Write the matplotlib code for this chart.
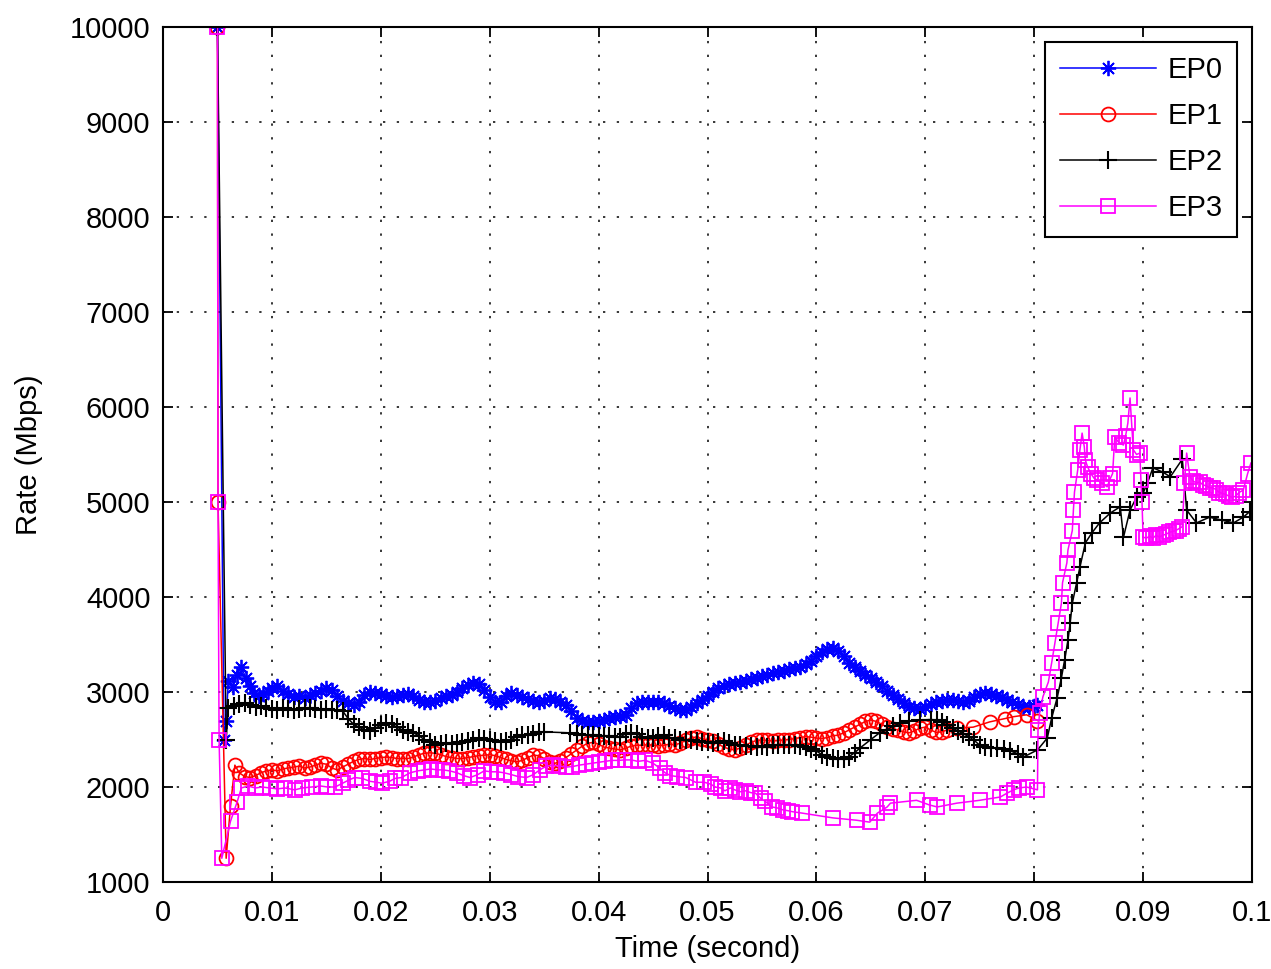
import numpy as np
import matplotlib
matplotlib.use("Agg")
import matplotlib.pyplot as plt

plt.rcParams['font.family'] = ['Liberation Sans', 'DejaVu Sans']

# ---------------- data (time in ms, rate in Mbps) ----------------
ep0_t = [5.0, 5.6, 5.8, 6.0, 6.4, 6.8, 7.2, 7.6, 8.0, 8.4, 8.8, 9.2, 9.6, 10.0, 10.5, 11.0, 11.5,
         12.0, 12.5, 13.0, 13.5, 14.0, 14.5, 15.0, 15.5, 16.0, 16.5, 17.0, 17.5, 18.0, 18.5, 19.0, 19.5,
         20.0, 20.5, 21.0, 21.5, 22.0, 22.5, 23.0, 23.5, 24.0, 24.5, 25.0, 25.5, 26.0, 26.5, 27.0, 27.5,
         28.0, 28.5, 29.0, 29.5, 30.0, 30.5, 31.0, 31.5, 32.0, 32.5, 33.0, 33.5, 34.0, 34.5, 35.0, 35.5,
         36.0, 36.5, 37.0, 37.5, 38.0, 38.5, 39.0, 39.5, 40.0, 40.5, 41.0, 41.5, 42.0, 42.5, 43.0, 43.5,
         44.0, 44.5, 45.0, 45.5, 46.0, 46.5, 47.0, 47.5, 48.0, 48.5, 49.0, 49.5, 50.0, 50.5, 51.0, 51.5,
         52.0, 52.5, 53.0, 53.5, 54.0, 54.5, 55.0, 55.5, 56.0, 56.5, 57.0, 57.5, 58.0, 58.5, 59.0, 59.5,
         60.0, 60.5, 61.0, 61.5, 62.0, 62.5, 63.0, 63.5, 64.0, 64.5, 65.0, 65.5, 66.0, 66.5, 67.0, 67.5,
         68.0, 68.5, 69.0, 69.5, 70.0, 70.5, 71.0, 71.5, 72.0, 72.5, 73.0, 73.5, 74.0, 74.5, 75.0, 75.5,
         76.0, 76.5, 77.0, 77.5, 78.0, 78.5, 79.0, 79.5, 80.0, 80.3]
ep0_v = [10000, 2500, 2700, 3120, 3050, 3180, 3260, 3150, 3060, 2990, 2960, 2980, 3010, 3040, 3060, 3010, 2980,
         2950, 2960, 2940, 2970, 2990, 3010, 3040, 3020, 2960, 2910, 2880, 2860, 2900, 2970, 3000, 2990,
         2980, 2960, 2950, 2960, 2970, 2980, 2960, 2920, 2900, 2890, 2910, 2940, 2960, 2970, 3000, 3040,
         3070, 3095, 3080, 3020, 2950, 2890, 2900, 2960, 2990, 2970, 2950, 2930, 2910, 2895, 2910, 2935,
         2930, 2900, 2860, 2800, 2730, 2690, 2680, 2685, 2690, 2710, 2730, 2740, 2745, 2760, 2830, 2880,
         2890, 2895, 2890, 2895, 2880, 2850, 2830, 2815, 2810, 2840, 2880, 2915, 2960, 3000, 3040, 3060,
         3080, 3100, 3110, 3120, 3135, 3150, 3165, 3180, 3195, 3210, 3225, 3240, 3250, 3265, 3290, 3330,
         3380, 3420, 3450, 3460, 3430, 3380, 3310, 3260, 3220, 3180, 3150, 3110, 3060, 3010, 2970, 2930,
         2880, 2845, 2830, 2825, 2840, 2870, 2895, 2905, 2915, 2915, 2905, 2895, 2910, 2950, 2980, 2990,
         2975, 2960, 2945, 2920, 2895, 2870, 2845, 2840, 2855, 2860]

ep1_t = [5.0, 5.05, 5.8, 6.2, 6.6, 7.0, 7.5, 8.0, 8.5, 9.0, 9.5, 10.0, 10.5, 11.0, 11.5, 12.0, 12.5,
         13.0, 13.5, 14.0, 14.5, 15.0, 15.5, 16.0, 16.5, 17.0, 17.5, 18.0, 18.5, 19.0, 19.5, 20.0, 20.5,
         21.0, 21.5, 22.0, 22.5, 23.0, 23.5, 24.0, 24.5, 25.0, 25.5, 26.0, 26.5, 27.0, 27.5, 28.0, 28.5,
         29.0, 29.5, 30.0, 30.5, 31.0, 31.5, 32.0, 32.5, 33.0, 33.5, 34.0, 34.5, 35.0, 35.5, 36.0, 36.5,
         37.0, 37.5, 38.0, 38.5, 39.0, 39.5, 40.0, 40.5, 41.0, 41.5, 42.0, 42.5, 43.0, 43.5, 44.0, 44.5,
         45.0, 45.5, 46.0, 46.5, 47.0, 47.5, 48.0, 48.5, 49.0, 49.5, 50.0, 50.5, 51.0, 51.5, 52.0, 52.5,
         53.0, 53.5, 54.0, 54.5, 55.0, 55.5, 56.0, 56.5, 57.0, 57.5, 58.0, 58.5, 59.0, 59.5, 60.0, 60.5,
         61.0, 61.5, 62.0, 62.5, 63.0, 63.5, 64.0, 64.5, 65.0, 65.5, 66.0, 66.5, 67.0, 67.5, 68.0, 68.5,
         69.0, 69.5, 70.0, 70.5, 71.0, 71.5, 72.0, 72.9, 74.4, 75.9, 77.3, 78.1, 79.3, 80.3]
ep1_v = [10000, 5000, 1250, 1800, 2230, 2150, 2110, 2100, 2120, 2150, 2170, 2180, 2170, 2190, 2200, 2210, 2220,
         2200, 2210, 2230, 2250, 2240, 2200, 2180, 2210, 2240, 2270, 2290, 2300, 2290, 2300, 2310, 2315,
         2310, 2300, 2300, 2300, 2315, 2340, 2355, 2360, 2355, 2340, 2320, 2310, 2300, 2300, 2310, 2320,
         2330, 2335, 2340, 2330, 2310, 2290, 2275, 2265, 2280, 2310, 2335, 2330, 2300, 2265, 2250, 2270,
         2310, 2350, 2390, 2430, 2460, 2470, 2450, 2420, 2410, 2400, 2390, 2410, 2430, 2440, 2440, 2445,
         2440, 2435, 2440, 2450, 2445, 2460, 2490, 2520, 2525, 2510, 2495, 2480, 2450, 2420, 2400, 2390,
         2410, 2440, 2470, 2490, 2495, 2490, 2485, 2490, 2495, 2500, 2510, 2520, 2530, 2525, 2515, 2510,
         2520, 2540, 2545, 2570, 2600, 2630, 2660, 2690, 2705, 2690, 2660, 2630, 2615, 2600, 2580, 2570,
         2590, 2620, 2630, 2600, 2575, 2580, 2600, 2620, 2630, 2685, 2720, 2740, 2760, 2700]

ep2_t = [5.0, 5.8, 6.0, 6.5, 7.0, 7.5, 8.0, 8.5, 9.0, 9.5, 10.0, 10.5, 11.0, 11.5, 12.0, 12.5, 13.0,
         13.5, 14.0, 14.5, 15.0, 15.5, 16.0, 16.5, 17.0, 17.5, 18.0, 18.5, 19.0, 19.5, 20.0, 20.5, 21.0,
         21.5, 22.0, 22.5, 23.0, 23.5, 24.0, 24.5, 25.0, 25.5, 26.0, 26.5, 27.0, 27.5, 28.0, 28.5, 29.0,
         29.5, 30.0, 30.5, 31.0, 31.5, 32.0, 32.5, 33.0, 33.5, 34.0, 34.5, 35.0, 37.4, 38.0, 38.5, 39.0,
         39.5, 40.0, 40.5, 41.0, 41.5, 42.0, 42.5, 43.0, 43.5, 44.0, 44.5, 45.0, 45.5, 46.0, 46.5, 47.0,
         47.5, 48.0, 48.5, 49.0, 49.5, 50.0, 50.5, 51.0, 51.5, 52.0, 52.5, 53.0, 53.5, 54.0, 54.5, 55.0,
         55.5, 56.0, 56.5, 57.0, 57.5, 58.0, 58.5, 59.0, 59.5, 60.0, 60.5, 61.0, 61.5, 62.0, 62.5, 63.0,
         63.5, 64.0, 65.0, 65.8, 66.5, 67.0, 67.7, 68.5, 69.5, 70.5, 71.1, 71.5, 72.0, 72.5, 73.0, 73.5,
         74.0, 74.5, 75.0, 75.5, 76.0, 76.6, 77.2, 77.8, 78.5, 79.0, 80.3, 81.2, 81.6, 82.1, 82.5, 82.8,
         83.1, 83.3, 83.5, 83.9, 84.2, 84.7, 85.3, 86.0, 87.0, 87.9, 88.2, 88.8, 89.4, 90.0, 90.4, 90.9,
         91.8, 92.5, 93.6, 94.0, 94.9, 96.1, 97.2, 98.3, 99.2, 99.8]
ep2_v = [10000, 2500, 2830, 2850, 2870, 2880, 2860, 2840, 2850, 2830, 2820, 2810, 2830, 2820, 2810, 2820, 2830,
         2830, 2820, 2810, 2820, 2815, 2810, 2800, 2720, 2660, 2630, 2600, 2590, 2620, 2650, 2670, 2660,
         2630, 2600, 2580, 2570, 2540, 2500, 2470, 2440, 2450, 2460, 2455, 2460, 2470, 2480, 2500, 2515,
         2510, 2490, 2480, 2475, 2480, 2500, 2530, 2545, 2550, 2560, 2580, 2580, 2570, 2560, 2550, 2545,
         2545, 2540, 2540, 2535, 2530, 2530, 2560, 2570, 2560, 2530, 2515, 2520, 2540, 2545, 2520, 2515,
         2500, 2490, 2495, 2480, 2475, 2470, 2460, 2470, 2480, 2460, 2440, 2445, 2435, 2430, 2420, 2430,
         2420, 2440, 2445, 2440, 2440, 2445, 2430, 2420, 2400, 2380, 2340, 2320, 2310, 2300, 2290, 2320,
         2360, 2410, 2500, 2570, 2600, 2640, 2670, 2690, 2705, 2710, 2705, 2680, 2650, 2620, 2590, 2560,
         2530, 2490, 2440, 2420, 2410, 2410, 2400, 2380, 2350, 2315, 2390, 2515, 2725, 2935, 3150, 3340,
         3545, 3725, 3935, 4150, 4315, 4570, 4675, 4780, 4885, 4950, 4630, 4915, 5050, 5095, 5200, 5360,
         5315, 5265, 5450, 4915, 4780, 4840, 4810, 4780, 4840, 4900]

ep3_t = [5.0, 5.05, 5.15, 5.4, 6.2, 6.8, 7.2, 7.8, 8.5, 9.1, 9.8, 10.5, 11.2, 12.1, 12.8, 13.7, 14.5, 15.1,
         15.8, 16.5, 17.0, 17.6, 18.3, 19.0, 19.6, 20.1, 20.8, 21.3, 21.9, 22.7, 23.4, 24.0, 24.6, 25.2,
         25.7, 26.3, 27.0, 27.6, 28.2, 28.9, 29.5, 30.1, 30.7, 31.3, 32.0, 32.6, 33.4, 34.0, 34.6, 35.2,
         35.8, 36.4, 37.0, 37.6, 38.2, 38.8, 39.4, 40.0, 40.6, 41.2, 41.8, 42.4, 43.0, 43.6, 44.3, 45.0,
         45.6, 46.1, 46.6, 47.2, 48.0, 48.9, 49.7, 50.3, 50.7, 51.2, 51.6, 52.1, 52.5, 53.0, 53.5, 54.0,
         54.4, 54.9, 55.3, 55.9, 56.4, 56.9, 57.4, 57.8, 58.7, 61.5, 63.7, 64.9, 65.6, 66.5, 66.8, 69.2,
         70.4, 71.1, 72.9, 75.0, 76.9, 77.5, 78.1, 78.6, 79.3, 80.3, 80.35, 80.5, 80.8, 81.3, 81.6, 81.9,
         82.2, 82.5, 82.6, 83.0, 83.1, 83.5, 83.6, 83.7, 84.0, 84.2, 84.4, 84.6, 84.7, 84.9, 85.2, 85.5,
         85.8, 86.2, 86.7, 87.0, 87.2, 87.4, 87.8, 88.2, 88.4, 88.6, 88.8, 89.1, 89.4, 89.7, 89.8, 89.9,
         90.0, 90.3, 90.6, 90.9, 91.2, 91.5, 91.8, 92.1, 92.4, 92.7, 93.0, 93.3, 93.6, 93.8, 94.0, 94.3,
         94.6, 94.9, 95.2, 95.5, 95.8, 96.1, 96.4, 96.7, 97.0, 97.3, 97.6, 97.9, 98.2, 98.5, 98.8, 99.2,
         99.6, 99.9]
ep3_v = [10000, 5000, 2500, 1250, 1640, 1840, 1990, 2010, 1990, 2000, 1990, 1980, 1990, 1970, 1990, 2000, 2010, 2000,
         2000, 2040, 2070, 2100, 2090, 2060, 2050, 2040, 2060, 2090, 2100, 2150, 2170, 2180, 2190, 2180,
         2180, 2170, 2150, 2120, 2100, 2130, 2170, 2160, 2160, 2150, 2130, 2110, 2100, 2130, 2180, 2220,
         2230, 2220, 2210, 2215, 2230, 2240, 2250, 2260, 2270, 2280, 2280, 2285, 2285, 2270, 2280, 2250,
         2200, 2150, 2120, 2110, 2100, 2050, 2050, 2030, 2000, 1990, 1960, 1990, 1970, 1950, 1960, 1940,
         1935, 1880, 1850, 1790, 1780, 1760, 1750, 1740, 1725, 1675, 1650, 1630, 1725, 1790, 1830, 1860,
         1810, 1790, 1830, 1860, 1895, 1935, 1970, 1990, 2000, 1970, 2600, 2780, 2950, 3105, 3305, 3515,
         3725, 3935, 4150, 4360, 4495, 4700, 4915, 5105, 5340, 5550, 5725, 5580, 5440, 5370, 5300, 5250,
         5230, 5200, 5160, 5250, 5300, 5685, 5620, 5600, 5700, 5830, 6095, 5550, 5500, 5515, 5230, 5000,
         4630, 4620, 4640, 4620, 4650, 4630, 4650, 4660, 4680, 4690, 4700, 4720, 4740, 5200, 5515, 5265,
         5220, 5200, 5210, 5180, 5170, 5150, 5150, 5130, 5100, 5090, 5080, 5060, 5050, 5060, 5100, 5125,
         5300, 5410]

series_names = ['EP0', 'EP1', 'EP2', 'EP3']
x_ticks = [0, 0.01, 0.02, 0.03, 0.04, 0.05, 0.06, 0.07, 0.08, 0.09, 0.1]
x_tick_labels = ['0', '0.01', '0.02', '0.03', '0.04', '0.05', '0.06', '0.07', '0.08', '0.09', '0.1']
y_ticks = [1000, 2000, 3000, 4000, 5000, 6000, 7000, 8000, 9000, 10000]

# ---------------- figure ----------------
fig = plt.figure(figsize=(12.71, 9.69), dpi=100)
ax = fig.add_axes([163 / 1271, 1 - 882 / 969, (1252 - 163) / 1271, (882 - 27) / 969])

FS = 21
asterisk = (8, 2, 0)
styles = [
    dict(color='#0000ff', marker=asterisk, markersize=11, markeredgewidth=1.3),
    dict(color='#ff0000', marker='o', markersize=10, markerfacecolor='none', markeredgewidth=1.3),
    dict(color='#000000', marker='+', markersize=13, markeredgewidth=1.5),
    dict(color='#ff00ff', marker='s', markersize=10, markerfacecolor='none', markeredgewidth=1.3),
]
data = [(ep0_t, ep0_v), (ep1_t, ep1_v), (ep2_t, ep2_v), (ep3_t, ep3_v)]
for name, (t, v), st in zip(series_names, data, styles):
    ax.plot(np.array(t) / 1000.0, v, linewidth=1.1, label=name, **st)

ax.set_xlim(0, 0.1)
ax.set_ylim(1000, 10000)
ax.set_xticks(x_ticks)
ax.set_xticklabels(x_tick_labels)
ax.set_yticks(y_ticks)
ax.tick_params(direction='in', length=7, width=1.3, labelsize=FS, top=True, right=True,
               colors='black')
ax.tick_params(axis='x', pad=12)
ax.tick_params(axis='y', pad=9)
for s in ax.spines.values():
    s.set_linewidth(1.5)
ax.grid(True, color='black', linestyle=(0, (1.5, 7.5)), linewidth=1.1)
ax.set_axisbelow(True)

ax.set_xlabel('Time (second)', fontsize=FS, labelpad=6)
ax.set_ylabel('Rate (Mbps)', fontsize=FS, labelpad=19)

leg = ax.legend(loc='upper right', fontsize=FS, frameon=True, fancybox=False, framealpha=1,
                edgecolor='black', handlelength=3.3, handletextpad=0.4, labelspacing=0.62,
                borderpad=0.5, borderaxespad=0.5, numpoints=1)
leg.get_frame().set_linewidth(1.5)

fig.savefig('out.png', dpi=100, facecolor='white')
